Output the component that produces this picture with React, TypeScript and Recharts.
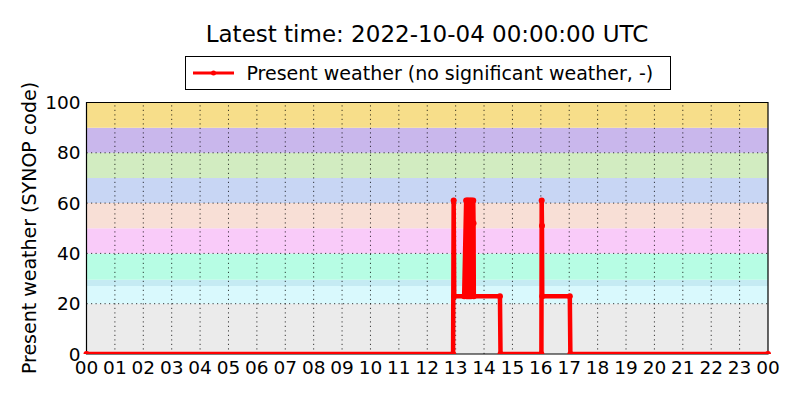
import React from "react";
import {
  Legend,
  Line,
  LineChart,
  ReferenceArea,
  ReferenceLine,
  XAxis,
  YAxis,
} from "recharts";

// hours since 00 UTC and SYNOP present weather code
const hours = [
  0, 12.91, 12.93, 12.95, 13.3, 13.37, 13.39, 13.41, 13.44, 13.46, 13.49, 13.51,
  13.54, 13.56, 13.62, 13.63, 13.64, 14.56, 14.58, 16.02, 16.03, 16.04, 16.05,
  17.02, 17.04, 24,
];
const codes = [
  0, 0, 61, 23, 23, 61, 23, 61, 23, 61, 23, 61, 23, 61, 61, 52, 23, 23, 0, 0,
  61, 51, 23, 23, 0, 0,
];

const hourTicks = [
  0, 1, 2, 3, 4, 5, 6, 7, 8, 9, 10, 11, 12, 13, 14, 15, 16, 17, 18, 19, 20, 21,
  22, 23, 24,
];
const codeTicks = [0, 20, 40, 60, 80, 100];

// SYNOP code class bands
const bandFrom = [0, 20, 27, 29.5, 40, 50, 60, 70, 80, 90];
const bandTo = [20, 27, 29.5, 40, 50, 60, 70, 80, 90, 100];
const bandColors = [
  "#ebebeb",
  "#d9f9fd",
  "#c5ebf3",
  "#b7fde4",
  "#f9cbf9",
  "#f8dfd6",
  "#c8d6f4",
  "#d2ecc1",
  "#c9b7ec",
  "#f7de8a",
];

const seriesName = "Present weather (no significant weather, -)";
const title = "Latest time: 2022-10-04 00:00:00 UTC";

const font = "'DejaVu Sans', sans-serif";

const data = hours.map((h, i) => ({ hour: h, code: codes[i] }));

const pad = (h: number) => String(h % 24).padStart(2, "0");

const gridStyle = {
  stroke: "#000",
  strokeWidth: 0.9,
  strokeDasharray: "1.2 3.3",
  strokeOpacity: 0.85,
};

const LegendBox = () => (
  <div
    style={{
      width: 486,
      height: 34,
      border: "1px solid #000",
      background: "#fff",
      display: "flex",
      alignItems: "center",
      fontFamily: font,
      fontSize: 19,
      color: "#000",
      boxSizing: "border-box",
    }}
  >
    <svg width={60} height={20} style={{ flex: "none" }}>
      <line x1={7} x2={48} y1={10} y2={10} stroke="#ff0000" strokeWidth={3} />
      <circle cx={27.5} cy={10} r={2.5} fill="#ff0000" />
    </svg>
    <span style={{ marginLeft: 1, whiteSpace: "nowrap" }}>{seriesName}</span>
  </div>
);

export default function App() {
  return (
    <div
      style={{
        position: "absolute",
        left: 0,
        top: 0,
        width: 800,
        height: 400,
        background: "#fff",
      }}
    >
      <LineChart
        width={800}
        height={400}
        data={data}
        margin={{ top: 102.5, right: 32, left: 0, bottom: 0 }}
      >
        {bandFrom.map((y1, i) => (
          <ReferenceArea
            key={i}
            y1={y1}
            y2={bandTo[i]}
            fill={bandColors[i]}
            fillOpacity={1}
            stroke="none"
          />
        ))}
        {codeTicks.slice(1, 5).map((v) => (
          <ReferenceLine key={"h" + v} y={v} {...gridStyle} />
        ))}
        {hourTicks.slice(1, 24).map((h) => (
          <ReferenceLine key={"v" + h} x={h} {...gridStyle} />
        ))}
        <XAxis
          dataKey="hour"
          type="number"
          domain={[0, 24]}
          ticks={hourTicks}
          tickFormatter={pad}
          interval={0}
          height={46}
          tickLine={false}
          tickSize={0}
          tickMargin={7}
          axisLine={false}
          tick={{ fill: "#000", fontSize: 18.5, fontFamily: font }}
        />
        <YAxis
          type="number"
          domain={[0, 100]}
          ticks={codeTicks}
          allowDataOverflow
          width={86.5}
          tickLine={false}
          tickSize={0}
          tickMargin={6}
          axisLine={false}
          tick={{ fill: "#000", fontSize: 18.5, fontFamily: font }}
        />
        <Legend
          layout="horizontal"
          verticalAlign="middle"
          align="center"
          wrapperStyle={{ top: 55.5, left: 184.5, width: 486 }}
          content={() => <LegendBox />}
        />
        <Line
          type="linear"
          dataKey="code"
          name={seriesName}
          stroke="#ff0000"
          strokeWidth={4.5}
          strokeLinejoin="round"
          dot={{ r: 3, fill: "#ff0000", stroke: "none" }}
          activeDot={false}
          isAnimationActive={false}
        />
        <ReferenceArea
          x1={0}
          x2={24}
          y1={0}
          y2={100}
          fill="none"
          stroke="#000"
          strokeWidth={1.2}
          ifOverflow="visible"
        />
        <text
          x={427}
          y={42.3}
          textAnchor="middle"
          fontFamily={font}
          fontSize={23}
          fill="#000"
        >
          {title}
        </text>
        <text
          x={35.5}
          y={228}
          transform="rotate(-90 35.5 228)"
          textAnchor="middle"
          fontFamily={font}
          fontSize={19}
          fill="#000"
        >
          Present weather (SYNOP code)
        </text>
      </LineChart>
    </div>
  );
}
